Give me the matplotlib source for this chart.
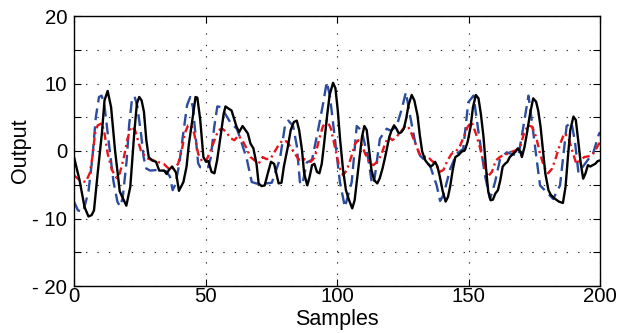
import matplotlib
matplotlib.use("Agg")
import matplotlib.pyplot as plt
from matplotlib.ticker import FuncFormatter, MultipleLocator

plt.rcParams['font.family'] = ['Liberation Sans', 'DejaVu Sans']

# ---- data ----
black_x = [0, 2.1, 4.0, 5.5, 6.7, 7.6, 9.0, 10.6, 11.6, 12.8, 14.1, 15.6, 17.4, 19.9, 21.4, 22.9, 23.9, 24.8,
           25.7, 26.6, 27.5, 28.4, 29.7, 31.2, 32.4, 34.3, 35.2, 36.1, 37.3, 38.8, 39.9, 41.6, 42.8, 43.7, 45.0,
           46.2, 46.9, 48.0, 49.2, 50.2, 51.1, 52.3, 53.4, 54.4, 55.7, 56.9, 57.6, 58.7, 59.9, 61.8, 62.8, 64.1,
           66.1, 67.1, 68.2, 69.4, 70.2, 71.3, 72.5, 73.7, 74.9, 76.1, 77.1, 77.8, 78.9, 79.8, 81.3, 82.4, 83.6,
           84.7, 85.6, 86.7, 87.5, 88.7, 89.6, 90.5, 91.4, 92.4, 93.3, 94.2, 95.1, 96.2, 97.2, 98.5, 99.4, 100.3,
           101.2, 102.3, 103.4, 104.6, 105.8, 106.7, 107.6, 108.6, 109.5, 110.4, 111.3, 112.2, 113.1, 114.1,
           115.3, 116.2, 117.3, 118.3, 119.9, 120.8, 121.7, 122.6, 123.5, 124.5, 125.4, 126.3, 127.2, 128.4,
           129.4, 130.6, 131.5, 132.4, 133.6, 134.6, 135.5, 136.4, 137.3, 138.2, 139.1, 140.1, 141.3, 142.2,
           143.1, 144.0, 145.0, 146.2, 147.4, 148.6, 149.7, 150.8, 151.7, 152.8, 153.8, 154.7, 155.7, 156.6,
           157.5, 158.4, 159.3, 160.2, 161.2, 162.1, 163.0, 163.9, 164.8, 165.7, 167.0, 167.9, 168.8, 169.7,
           170.3, 171.3, 172.2, 173.4, 174.6, 175.7, 176.5, 177.4, 178.3, 179.2, 180.4, 181.3, 182.6, 184.4,
           185.9, 186.9, 187.8, 188.7, 189.9, 190.8, 191.7, 192.7, 193.6, 194.5, 195.4, 196.3, 197.2, 198.2,
           199.1, 200]
black_y = [-0.9, -4.3, -8.3, -9.7, -9.5, -8.8, -3.3, 2.6, 7.5, 8.9, 6.5, 0.1, -6.0, -8.1, -5.3, 2.6, 7.0, 8.0,
           7.5, 5.8, 1.6, -0.9, -1.4, -1.6, -2.9, -2.9, -3.4, -2.8, -2.3, -3.2, -5.9, -4.6, -2.3, 1.1, 4.6,
           8.0, 7.9, 4.6, -0.9, -1.6, -1.5, -3.1, -3.3, -1.4, 2.1, 5.5, 6.6, 6.3, 6.0, 3.6, 2.8, 3.7,
           2.6, 1.1, 0.4, -1.9, -4.8, -5.2, -5.1, -3.3, -1.6, -1.9, -3.6, -4.8, -4.7, -2.3, 0.6, 3.1, 4.3,
           4.5, 3.1, 0.1, -3.3, -5.1, -3.8, -2.1, -1.9, -3.1, -3.3, -1.9, 1.1, 5.1, 8.3, 10.1, 9.3, 6.0,
           1.6, -2.8, -5.8, -7.3, -8.5, -7.3, -4.3, -0.9, 2.1, 3.7, 3.1, 0.1, -2.8, -4.3,
           -4.8, -4.1, -2.6, -0.9, 2.1, 3.1, 3.8, 3.3, 2.6, 2.8, 3.3, 4.8, 6.8, 8.3,
           7.5, 5.3, 2.3, -0.1, -1.4, -1.9, -2.3, -2.1, -1.6, -2.3, -3.8, -5.8, -7.5, -6.8,
           -5.1, -2.8, -0.9, -0.6, -0.1, 0.1, 1.4, 3.6, 6.5, 8.3, 7.8, 5.5, 2.1, -2.3,
           -6.0, -7.3, -7.2, -6.3, -5.8, -4.3, -2.3, -1.9, -1.6, -0.9, -0.4, -0.1, 0.4, -0.1,
           -0.9, 0.6, 2.6, 5.5, 7.8, 7.3, 6.0, 3.6, 0.1, -3.3, -5.8, -6.5, -7.0, -7.5,
           -7.7, -5.3, -0.9, 3.1, 5.1, 4.6, 1.6, -1.9, -4.1, -3.3, -2.1, -2.3, -2.1, -1.9,
           -1.5, -1.4]

blue_x = [0, 1.5, 3.5, 5.5, 7, 8.3, 9.5, 10.5, 11.5, 13, 15, 16.5, 17.5, 18.5, 20, 21, 22, 23, 24, 25.5, 26.5,
          27.5, 29, 32, 35, 36.5, 37.5, 38.5, 40, 41.5, 43, 44.2, 45.2, 46.3, 47.2, 48, 51, 52, 53.3, 54.5, 56,
          57.5, 59.5, 61.9, 63.1, 65.7, 67.6, 70.1, 73, 75.2, 78.3, 80.2, 81.5, 83.3, 84.7, 85.9, 86.8, 88.5,
          90.5, 92.9, 94.8, 96.1, 97.3, 99.2, 101.1, 103.0, 105.6, 107.5, 109.4, 111.9, 113.2, 114.0, 116.3,
          118.9, 120.5, 122.7, 124.6, 126.2, 127.8, 129.7, 131.6, 133.5, 135.4, 137.9, 139.2, 140.5, 143.0,
          145.5, 148.0, 149.9, 151.9, 153.8, 156.3, 158.2, 160.1, 162.0, 164.5, 167, 169.0, 170.9, 172.8,
          174.0, 175.9, 177.2, 179.7, 182.2, 184.8, 187.3, 189.2, 190.5, 191.8, 193.7, 195.6, 197.5, 199.4, 200]
blue_y = [-7.5, -8.8, -9.0, -6.0, -1.0, 5.0, 8.0, 8.2, 7.0, 2.0, -4.5, -7.5, -8.2, -7.0, -1.5, 4.0, 7.5, 8.1, 6.8,
          2.5, -1.0, -2.6, -2.9, -2.8, -3.0, -3.8, -5.8, -5.0, -2.0, 2.5, 6.8, 8.0, 6.5, 2.0, -1.8, -2.4, -2.4,
          -1.0, 3.5, 6.6, 6.5, 5.5, 4.2, 3.3, 2.0, -1.2, -4.6, -4.9, -4.8, -4.7, -1.2, 3.7, 4.5, 3.7, 0.8,
          -4.6, -5.0, -1.7, -1.3, 3.3, 7.2, 10.2, 8.2, 1.8, -4.6, -8.3, -4.6, 3.7, 3.0, -1.2, -4.6, -4.9, 1.8,
          3.3, 3.0, 3.7, 6.2, 8.7, 5.2, 1.3, -0.7, -1.4, -2.2, -5.1, -7.4, -6.5, -2.7, -0.4, 0.3, 7.2, 8.2,
          2.8, -3.7, -7.1, -4.6, -1.2, -0.2, -0.5, -0.7, 3.7, 8.2, 4.7, -1.2, -5.1, -6.1, -7.1, -5.1, 3.7,
          4.2, 1.3, -3.2, -2.2, -1.2, -0.2, 2.3, 2.8]

red_x = [0, 2.1, 4.4, 6.0, 7.0, 8.0, 9.0, 10.6, 11.6, 12.8, 14.4, 16.2, 17.4, 19.0, 20.2, 21.7, 23.2, 24.3, 25.4,
         26.6, 28.0, 29.5, 31.8, 34.1, 36.5, 38.0, 39.6, 41.0, 42.1, 43.4, 44.6, 45.7, 47.2, 48.8, 50.3, 51.8,
         53.4, 54.9, 56.4, 57.9, 59.5, 61.0, 62.5, 64.0, 65.6, 67.1, 68.7, 70.2, 71.7, 73.2, 74.8, 76.3, 77.8,
         79.4, 80.9, 82.4, 84.0, 85.5, 87.0, 88.5, 90.0, 91.6, 93.1, 94.6, 96.2, 97.7, 99.2, 100.8, 102.3,
         103.8, 105.4, 106.9, 108.1, 109.2, 110.7, 112.2, 113.8, 115.3, 116.8, 118.3, 119.6, 121.1, 122.6,
         124.2, 125.7, 126.8, 128.3, 129.8, 131.3, 132.9, 134.4, 135.9, 137.5, 139.0, 140.5, 142.0, 143.6,
         145.1, 146.6, 148.2, 149.7, 151.2, 152.8, 154.3, 155.8, 157.3, 158.9, 160.4, 161.9, 163.4, 165.0,
         166.5, 168.0, 169.6, 171.1, 172.6, 174.2, 175.7, 177.2, 178.7, 180.3, 181.8, 183.3, 184.9, 186.4,
         187.9, 189.4, 191.0, 192.5, 194.0, 195.5, 197.1, 198.6, 200]
red_y = [-3.6, -4.3, -4.6, -3.3, -0.9, 2.6, 3.8, 4.1, 2.6, -0.4, -2.8, -4.0, -3.3, -0.9, 1.6, 3.6, 3.1, 1.6, 0.1,
         -0.6, -1.1, -1.3, -1.6, -1.9, -2.8, -2.6, -1.9, 0.1, 2.6, 3.8, 3.8, 2.6, -0.4, -1.6, -1.4, -0.1,
         1.6, 3.1, 3.3, 2.8, 1.9, 1.6, 2.3, 1.6, 0.4, -0.9, -1.4, -1.9, -0.9, -1.2, -1.1, -0.1, 0.9,
         1.6, 1.4, 0.6, -0.4, -1.3, -1.1, -1.4, -1.6, -0.9, 1.6, 3.6, 4.6, 3.3, 0.6, -2.3, -3.6,
         -2.8, -0.9, 1.1, 1.6, 1.1, -0.4, -1.6, -2.1, -1.6, -0.6, 1.1, 2.1, 1.6, 2.1,
         2.8, 3.6, 3.8, 2.6, 1.1, -0.4, -0.9, -0.8, -1.4, -1.9, -3.1, -2.8, -1.4, -0.4,
         -0.1, 0.6, 2.1, 3.6, 4.3, 2.6, 0.6, -1.9, -3.8, -3.1, -1.4, -0.9, -0.6, -0.4,
         -0.1, 0.1, 0.6, 2.6, 3.8, 3.6, 2.1, -0.4, -2.3, -3.3, -2.6, -0.9, 1.1, 2.6,
         2.1, 0.1, -1.9, -1.4, -0.9, -0.8, -0.6, 0.4, 1.3]

x_ticks = [0, 50, 100, 150, 200]
y_major = [-20, -10, 0, 10, 20]

# ---- figure ----
fig = plt.figure(figsize=(6.3, 3.33), dpi=100)
ax = fig.add_axes([74 / 630, 1 - 286 / 333, 526 / 630, 270 / 333])

ax.plot(black_x, black_y, color='black', lw=1.7, zorder=3)
ax.plot(blue_x, blue_y, color='#2C4C9E', lw=1.7, linestyle=(0, (5, 2.6)), zorder=2)
ax.plot(red_x, red_y, color='#E8141B', lw=1.7, linestyle=(0, (3.2, 1.6, 0.9, 1.6)), zorder=2)

ax.set_xlim(0, 200)
ax.set_ylim(-20, 20)
ax.set_xticks(x_ticks)
ax.yaxis.set_major_locator(MultipleLocator(5))


def yfmt(v, pos):
    iv = int(round(v))
    if iv % 10 != 0:
        return ''
    if iv < 0:
        return '- %d' % (-iv)
    return '%d' % iv


ax.yaxis.set_major_formatter(FuncFormatter(yfmt))
ax.grid(True, linestyle=(0, (1.3, 9)), color='#333333', lw=0.8)
ax.tick_params(direction='in', top=True, right=True, length=5, width=0.8, labelsize=14.7)
ax.tick_params(axis='x', pad=1)
ax.tick_params(axis='y', pad=5)
for s in ax.spines.values():
    s.set_linewidth(1.0)

ax.set_xlabel('Samples', fontsize=15.5, labelpad=2)
ax.set_ylabel('Output', fontsize=15.5, labelpad=1)

fig.savefig('out.png', dpi=100)
